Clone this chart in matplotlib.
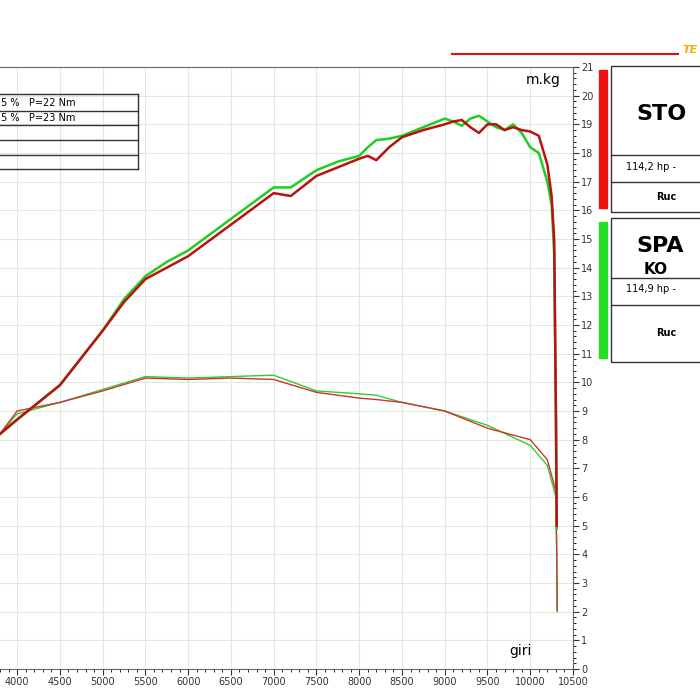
import matplotlib
matplotlib.use("Agg")
import matplotlib.pyplot as plt
from matplotlib.patches import Rectangle
import numpy as np

rpm_hi = [3800, 4000, 4500, 5000, 5250, 5500, 5750, 6000, 6500, 7000, 7200, 7500, 7750, 8000, 8100, 8200, 8350, 8500, 8750, 9000, 9100, 9200, 9300, 9400, 9500, 9600, 9700, 9800, 9900, 10000, 10100, 10200, 10250, 10280, 10300, 10310]
red_hi = [8.2, 8.7, 9.9, 11.8, 12.8, 13.6, 14.0, 14.4, 15.5, 16.6, 16.5, 17.2, 17.5, 17.8, 17.9, 17.75, 18.2, 18.55, 18.8, 19.0, 19.1, 19.15, 18.9, 18.7, 19.0, 19.0, 18.8, 18.9, 18.8, 18.75, 18.6, 17.6, 16.5, 15.0, 9.0, 5.0]
grn_hi = [8.2, 8.7, 9.9, 11.8, 12.9, 13.7, 14.2, 14.6, 15.7, 16.8, 16.8, 17.4, 17.7, 17.9, 18.2, 18.45, 18.5, 18.6, 18.9, 19.2, 19.1, 18.95, 19.2, 19.3, 19.1, 18.9, 18.8, 19.0, 18.7, 18.2, 18.0, 17.0, 16.2, 14.5, 9.0, 4.9]
rpm_lo = [3800, 4000, 4500, 5000, 5500, 6000, 6500, 7000, 7500, 8000, 8200, 8500, 9000, 9500, 10000, 10200, 10300, 10310, 10315]
red_lo = [8.2, 9.0, 9.3, 9.7, 10.15, 10.1, 10.15, 10.1, 9.65, 9.45, 9.4, 9.3, 9.0, 8.4, 8.0, 7.3, 6.2, 4.0, 2.05]
grn_lo = [8.2, 8.9, 9.3, 9.75, 10.2, 10.15, 10.2, 10.25, 9.7, 9.6, 9.55, 9.3, 9.0, 8.5, 7.8, 7.1, 6.0, 4.0, 2.0]
xticks = list(range(4000, 10501, 500))
yticks = list(range(0, 22))

W = H = 700
fig = plt.figure(figsize=(7, 7), dpi=100)
def fx(x): return x / W
def fy(y): return 1 - y / H

ax = fig.add_axes([0, fy(669), fx(573), (669 - 67) / H])
ax.set_xlim(3800, 10500); ax.set_ylim(0, 21)
ax.set_xticks(xticks); ax.set_yticks(yticks)
ax.set_xticks(np.arange(3800, 10501, 100), minor=True)
ax.set_yticks(np.arange(0, 21.01, 0.2), minor=True)
ax.grid(True, which='major', color='#dcebdc', lw=0.8)
ax.yaxis.tick_right()
ax.tick_params(labelsize=7, colors='#333', length=4, direction='out', pad=2)
ax.tick_params(which='minor', length=2, direction='out')
ax.spines['left'].set_visible(False)
ax.spines['top'].set_color('#666')
ax.spines['right'].set_color('#666'); ax.spines['bottom'].set_color('#666')

ax.plot(rpm_lo, grn_lo, color='#33cc33', lw=1.0)
ax.plot(rpm_lo, red_lo, color='#cc3333', lw=1.0)
ax.plot(rpm_hi, grn_hi, color='#22cc22', lw=1.8)
ax.plot(rpm_hi, red_hi, color='#bb1111', lw=1.8)
ax.text(9950, 20.4, 'm.kg', fontsize=10)
ax.text(9750, 0.5, 'giri', fontsize=10)

rows = [94, 111, 125, 140, 155, 169]
for y in rows:
    fig.add_artist(plt.Line2D([0, fx(138)], [fy(y), fy(y)], color='#333', lw=1))
fig.add_artist(plt.Line2D([fx(138), fx(138)], [fy(94), fy(169)], color='#333', lw=1))
fig.text(fx(1), fy(102.5), '5 %   P=22 Nm', fontsize=7, va='center')
fig.text(fx(1), fy(118), '5 %   P=23 Nm', fontsize=7, va='center')

fig.add_artist(plt.Line2D([fx(452), fx(678)], [fy(54), fy(54)], color='#dd1111', lw=1.5))
fig.text(fx(682), fy(50), 'TE', fontsize=8, color='#f0b400', style='italic', weight='bold', va='center')

for (top, bot, l1, l2, col, title, sub, line) in [
        (66, 212, 155, 182, '#ee1111', 'STO', None, '114,2 hp -'),
        (218, 362, 278, 305, '#22dd22', 'SPA', 'KO', '114,9 hp -')]:
    fig.add_artist(Rectangle((fx(599), fy(bot - 4)), fx(8), (bot - top - 8) / H, color=col))
    fig.add_artist(Rectangle((fx(611), fy(bot)), fx(120), (bot - top) / H, fill=False, ec='#333', lw=1))
    for y in (l1, l2):
        fig.add_artist(plt.Line2D([fx(611), 1], [fy(y), fy(y)], color='#333', lw=1))
    fig.text(fx(636), fy(top + 48 if sub is None else top + 28), title, fontsize=16, weight='bold', va='center')
    if sub:
        fig.text(fx(644), fy(top + 52), sub, fontsize=11, weight='bold', va='center')
    fig.text(fx(626), fy((l1 + l2) / 2 - 2), line, fontsize=7, va='center')
    fig.text(fx(656), fy((l2 + bot) / 2), 'Ruc', fontsize=7, weight='bold', va='center')

fig.savefig('out.png', dpi=100)
